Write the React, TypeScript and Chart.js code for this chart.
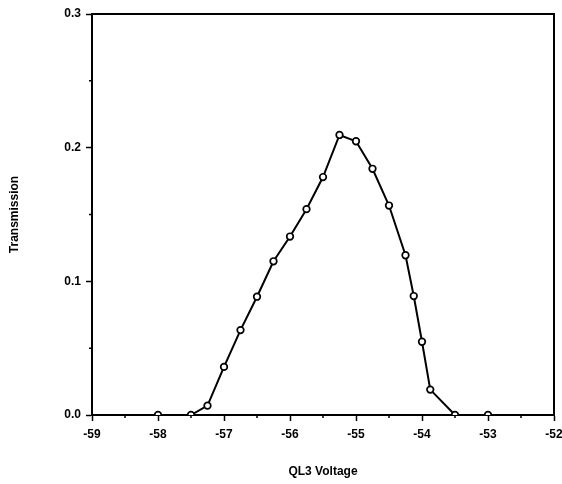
import React, { useEffect, useRef } from "react";
import { Chart, registerables } from "chart.js";

Chart.register(...registerables);

const voltages = [
  -58, -57.5, -57.25, -57, -56.75, -56.5, -56.25, -56, -55.75, -55.5, -55.25,
  -55, -54.75, -54.5, -54.25, -54.125, -54, -53.875, -53.5, -53,
];
const transmission = [
  0, 0, 0.007, 0.036, 0.0635, 0.0885, 0.115, 0.1335, 0.154, 0.178, 0.2095,
  0.2048, 0.1842, 0.1567, 0.1195, 0.089, 0.0548, 0.019, 0, 0,
];
const xMinorTicks = [-58.5, -57.5, -56.5, -55.5, -54.5, -53.5, -52.5];
const yMinorTicks = [0.05, 0.15, 0.25];

const FONT = "'Liberation Sans', Arial, sans-serif";

const framePlugin = {
  id: "frame",
  afterDraw(chart: any) {
    const { ctx, chartArea } = chart;
    const xs = chart.scales.x;
    const ys = chart.scales.y;
    ctx.save();
    ctx.strokeStyle = "#000";
    ctx.lineWidth = 2;
    ctx.beginPath();
    ctx.moveTo(chartArea.left, chartArea.top);
    ctx.lineTo(chartArea.right, chartArea.top);
    ctx.lineTo(chartArea.right, chartArea.bottom);
    ctx.stroke();
    ctx.lineWidth = 1.5;
    ctx.beginPath();
    xMinorTicks.forEach((v) => {
      const px = xs.getPixelForValue(v);
      ctx.moveTo(px, chartArea.bottom);
      ctx.lineTo(px, chartArea.bottom + 3);
    });
    yMinorTicks.forEach((v) => {
      const py = ys.getPixelForValue(v);
      ctx.moveTo(chartArea.left, py);
      ctx.lineTo(chartArea.left - 3, py);
    });
    ctx.stroke();
    ctx.restore();
  },
};

export default function App() {
  const ref = useRef<HTMLCanvasElement>(null);
  useEffect(() => {
    if (!ref.current) return;
    const chart = new Chart(ref.current, {
      type: "line",
      data: {
        datasets: [
          {
            data: voltages.map((v, i) => ({ x: v, y: transmission[i] })),
            borderColor: "#000",
            borderWidth: 2,
            pointRadius: 3.3,
            pointBackgroundColor: "#fff",
            pointBorderColor: "#000",
            pointBorderWidth: 1.7,
            tension: 0,
          },
        ],
      },
      options: {
        animation: false,
        responsive: false,
        layout: { padding: { top: 14, right: 8, left: 0, bottom: 0 } },
        plugins: { legend: { display: false }, tooltip: { enabled: false } },
        scales: {
          x: {
            type: "linear",
            min: -59,
            max: -52,
            position: "bottom",
            afterFit: (s: any) => {
              s.height = 69;
              s.paddingLeft = 0;
              s.paddingRight = 0;
            },
            ticks: {
              stepSize: 1,
              color: "#000",
              font: { family: FONT, size: 12, weight: "bold" },
              padding: 6,
              maxRotation: 0,
            },
            grid: {
              drawOnChartArea: false,
              drawTicks: true,
              tickLength: 6,
              tickColor: "#000",
              tickWidth: 1.5,
            },
            border: { display: true, color: "#000", width: 2 },
            title: {
              display: true,
              text: "QL3 Voltage",
              color: "#000",
              font: { family: FONT, size: 12, weight: "bold" },
              padding: { top: 0, bottom: 5 },
            },
          },
          y: {
            min: 0,
            max: 0.3,
            afterFit: (s: any) => {
              s.width = 92;
              s.paddingTop = 0;
              s.paddingBottom = 0;
            },
            ticks: {
              stepSize: 0.1,
              color: "#000",
              font: { family: FONT, size: 12, weight: "bold" },
              padding: 5,
              callback: (v: any) => Number(v).toFixed(1),
            },
            grid: {
              drawOnChartArea: false,
              drawTicks: true,
              tickLength: 6,
              tickColor: "#000",
              tickWidth: 1.5,
            },
            border: { display: true, color: "#000", width: 2 },
            title: {
              display: true,
              text: "Transmission",
              color: "#000",
              font: { family: FONT, size: 12, weight: "bold" },
              padding: { top: 7, bottom: 0 },
            },
          },
        },
      },
      plugins: [framePlugin],
    });
    return () => chart.destroy();
  }, []);
  return (
    <div style={{ position: "absolute", left: 0, top: 0, width: 562, height: 484, background: "#fff" }}>
      <canvas ref={ref} width={562} height={484} />
    </div>
  );
}
